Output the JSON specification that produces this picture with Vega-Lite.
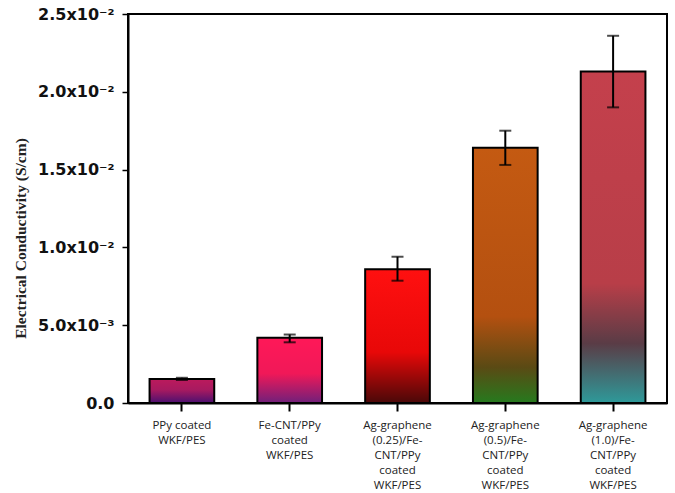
{
  "$schema": "https://vega.github.io/schema/vega-lite/v6.json",
  "width": 539,
  "height": 389,
  "autosize": "none",
  "padding": {"left": 128, "top": 14, "right": 8, "bottom": 90},
  "background": "white",
  "config": {"view": {"stroke": "black", "strokeWidth": 2}},
  "data": {"values": [
    {"cat": "PPy coated\nWKF/PES", "v": 0.00155, "lo": 0.00148, "hi": 0.00162},
    {"cat": "Fe-CNT/PPy\ncoated\nWKF/PES", "v": 0.0042, "lo": 0.0039, "hi": 0.0044},
    {"cat": "Ag-graphene\n(0.25)/Fe-\nCNT/PPy\ncoated\nWKF/PES", "v": 0.0086, "lo": 0.00786, "hi": 0.0094},
    {"cat": "Ag-graphene\n(0.5)/Fe-\nCNT/PPy\ncoated\nWKF/PES", "v": 0.0164, "lo": 0.0153, "hi": 0.0175},
    {"cat": "Ag-graphene\n(1.0)/Fe-\nCNT/PPy\ncoated\nWKF/PES", "v": 0.0213, "lo": 0.0190, "hi": 0.0236}
  ]},
  "encoding": {
    "x": {
      "field": "cat", "type": "nominal", "sort": null,
      "scale": {"paddingInner": 0.4, "paddingOuter": 0.2},
      "axis": {
        "title": null, "labelAngle": 0,
        "labelExpr": "split(datum.label, '\\n')",
        "labelFont": "Open Sans", "labelFontSize": 11.5, "labelColor": "#222",
        "labelLineHeight": 15, "labelBaseline": "top", "labelPadding": 8,
        "labelLimit": 200,
        "domainColor": "black", "domainWidth": 2,
        "tickColor": "black", "tickWidth": 2, "tickSize": 8
      }
    }
  },
  "layer": [
    {
      "mark": {"type": "bar", "stroke": "black", "strokeWidth": 2},
      "encoding": {
        "y": {
          "field": "v", "type": "quantitative",
          "scale": {"domain": [0, 0.025], "nice": false},
          "axis": {
            "title": "Electrical Conductivity (S/cm)",
            "titleFont": "Liberation Serif", "titleFontSize": 15.5, "titleFontWeight": "bold",
            "titleColor": "#222", "titlePadding": 9, "titleY": 224, "titleAnchor": "middle",
            "values": [0, 0.0025, 0.005, 0.0075, 0.01, 0.0125, 0.015, 0.0175, 0.02, 0.0225, 0.025],
            "labelExpr": "datum.value == 0 ? '0.0' : (abs(datum.value - 0.005) < 1e-7 ? '5.0x10⁻³' : (round(datum.value * 4000) % 20 == 0 ? format(datum.value * 100, '.1f') + 'x10⁻²' : ''))",
            "labelFont": "DejaVu Sans", "labelFontWeight": "bold", "labelFontSize": 16,
            "labelColor": "#111", "labelOverlap": false, "labelFlush": false, "labelPadding": 8,
            "domainColor": "black", "domainWidth": 2,
            "tickColor": "black", "tickWidth": 1.5, "tickSize": 6,
            "grid": false
          }
        },
        "fill": {
          "condition": [
            {"test": "indexof(datum.cat, 'PPy coated') == 0", "value": {"gradient": "linear", "x1": 0, "y1": 0, "x2": 0, "y2": 1, "stops": [{"offset": 0, "color": "#bc1a5c"}, {"offset": 0.45, "color": "#a81a60"}, {"offset": 1, "color": "#4a1070"}]}},
            {"test": "indexof(datum.cat, 'Fe-CNT') == 0", "value": {"gradient": "linear", "x1": 0, "y1": 0, "x2": 0, "y2": 1, "stops": [{"offset": 0, "color": "#ff1858"}, {"offset": 0.55, "color": "#f01858"}, {"offset": 1, "color": "#70207a"}]}},
            {"test": "indexof(datum.cat, '(0.25)') >= 0", "value": {"gradient": "linear", "x1": 0, "y1": 0, "x2": 0, "y2": 1, "stops": [{"offset": 0, "color": "#ff1010"}, {"offset": 0.62, "color": "#e80808"}, {"offset": 1, "color": "#4a0808"}]}},
            {"test": "indexof(datum.cat, '(0.5)') >= 0", "value": {"gradient": "linear", "x1": 0, "y1": 0, "x2": 0, "y2": 1, "stops": [{"offset": 0, "color": "#c45a12"}, {"offset": 0.66, "color": "#b45010"}, {"offset": 0.86, "color": "#5a4a14"}, {"offset": 1, "color": "#267a1e"}]}}
          ],
          "value": {"gradient": "linear", "x1": 0, "y1": 0, "x2": 0, "y2": 1, "stops": [{"offset": 0, "color": "#c4404c"}, {"offset": 0.64, "color": "#b83e48"}, {"offset": 0.82, "color": "#5a3c46"}, {"offset": 1, "color": "#2e9a9a"}]}
        }
      }
    },
    {
      "mark": {"type": "rule", "color": "black", "strokeWidth": 2},
      "encoding": {
        "y": {"field": "lo", "type": "quantitative"},
        "y2": {"field": "hi"}
      }
    },
    {
      "mark": {"type": "tick", "color": "black", "size": 12, "thickness": 2},
      "encoding": {"y": {"field": "lo", "type": "quantitative"}}
    },
    {
      "mark": {"type": "tick", "color": "black", "size": 12, "thickness": 2},
      "encoding": {"y": {"field": "hi", "type": "quantitative"}}
    }
  ]
}
